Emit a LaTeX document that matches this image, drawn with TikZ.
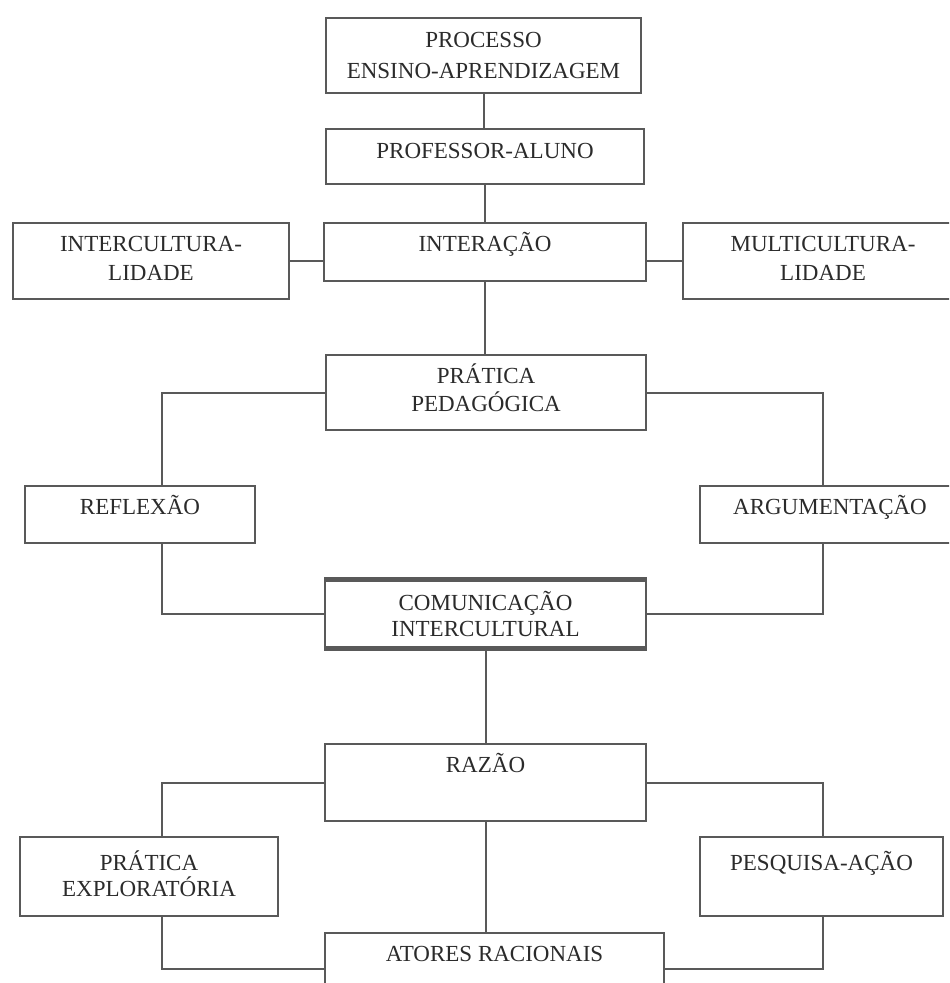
\documentclass[tikz,border=0pt]{standalone}
\usepackage{fontspec}
\setmainfont{Liberation Serif}
\definecolor{linegray}{HTML}{595959}
\definecolor{textgray}{HTML}{2B2B2B}
\tikzset{
  conceptbox/.style={draw=linegray, line width=1pt, anchor=north west, inner sep=0pt},
  caption/.style={anchor=north, yshift=-3.75pt, align=center, inner sep=0pt, text=textgray,
    font=\fontsize{11.5}{14.5}\selectfont, execute at begin node={\rule{0pt}{11pt}}},
  link/.style={draw=linegray, line width=1pt}
}
\begin{document}
\begin{tikzpicture}[x=0.5pt, y=-0.5pt]
  % Page frame: the lowest box runs off the bottom edge
  \clip (0,0) rectangle (949,983);
  \fill[white] (0,0) rectangle (949,983);
  % Columns of the side connectors
  \coordinate (lcol) at (162,0);
  \coordinate (rcol) at (823,0);
  % Upper chain of boxes
  \node[conceptbox, minimum width=157.5pt, minimum height=37.5pt,
    label={[caption, yshift=-3.5pt, font=\fontsize{11.5}{15.5}\selectfont]north:PROCESSO\\ENSINO-APRENDIZAGEM}] (proc) at (325,17) {};
  \node[conceptbox, minimum width=159pt, minimum height=27.5pt,
    label={[caption, yshift=-0.5pt]north:PROFESSOR-ALUNO}] (prof) at (325,128) {};
  \node[conceptbox, minimum width=161pt, minimum height=29pt,
    label={[caption]north:INTERAÇÃO}] (inter) at (323,222) {};
  \node[conceptbox, minimum width=138pt, minimum height=38pt,
    label={[caption, yshift=-3pt]north:INTERCULTURA-\\LIDADE}] (intcult) at (12,222) {};
  \node[conceptbox, minimum width=140pt, minimum height=38pt,
    label={[caption, yshift=-3pt]north:MULTICULTURA-\\LIDADE}] (multcult) at (682,222) {};
  \node[conceptbox, minimum width=160pt, minimum height=37.5pt,
    label={[caption, yshift=-1pt, font=\fontsize{11.5}{14}\selectfont]north:PRÁTICA\\PEDAGÓGICA}] (prat) at (325,354) {};
  % Middle ring
  \node[conceptbox, minimum width=115pt, minimum height=28.5pt,
    label={[caption]north:REFLEXÃO}] (refl) at (24,485) {};
  \node[conceptbox, minimum width=130pt, minimum height=28.5pt,
    label={[caption]north:ARGUMENTAÇÃO}] (arg) at (699,485) {};
  \node[conceptbox, minimum width=160.5pt, minimum height=35pt,
    label={[caption, yshift=-2.5pt, font=\fontsize{11.5}{13}\selectfont]north:COMUNICAÇÃO\\INTERCULTURAL}] (com) at (324,578) {};
  \draw[linegray, line width=2.75pt] ([yshift=-0.75pt]com.north west) -- ([yshift=-0.75pt]com.north east);
  \draw[linegray, line width=2.75pt] ([yshift=0.75pt]com.south west) -- ([yshift=0.75pt]com.south east);
  % Lower ring
  \node[conceptbox, minimum width=160.5pt, minimum height=38.5pt,
    label={[caption]north:RAZÃO}] (razao) at (324,743) {};
  \node[conceptbox, minimum width=129pt, minimum height=39.5pt,
    label={[caption, yshift=-3.5pt, font=\fontsize{11.5}{13}\selectfont]north:PRÁTICA\\EXPLORATÓRIA}] (pexp) at (19,836) {};
  \node[conceptbox, minimum width=121.5pt, minimum height=39.5pt,
    label={[caption, yshift=-2.5pt]north:PESQUISA-AÇÃO}] (pesq) at (699,836) {};
  \node[conceptbox, minimum width=169.5pt, minimum height=36pt,
    label={[caption]north:ATORES RACIONAIS}] (atores) at (324,932) {};
  % Connectors
  \draw[link] (proc.south) -- (proc.south |- prof.north);
  \draw[link] (prof.south) -- (prof.south |- inter.north);
  \draw[link] (intcult.east) -- (intcult.east -| inter.west);
  \draw[link] (multcult.west) -- (multcult.west -| inter.east);
  \draw[link] (inter.south) -- (inter.south |- prat.north);
  \draw[link] (prat.west) -| (lcol |- refl.north);
  \draw[link] (prat.east) -| (rcol |- arg.north);
  \draw[link] (lcol |- refl.south) |- (com.west);
  \draw[link] (rcol |- arg.south) |- (com.east);
  \draw[link] (com.south) -- (com.south |- razao.north);
  \draw[link] (razao.west) -| (lcol |- pexp.north);
  \draw[link] (razao.east) -| (rcol |- pesq.north);
  \draw[link] (razao.south) -- (razao.south |- atores.north);
  \draw[link] (lcol |- pexp.south) |- (atores.west);
  \draw[link] (rcol |- pesq.south) |- (atores.east);
\end{tikzpicture}
\end{document}
